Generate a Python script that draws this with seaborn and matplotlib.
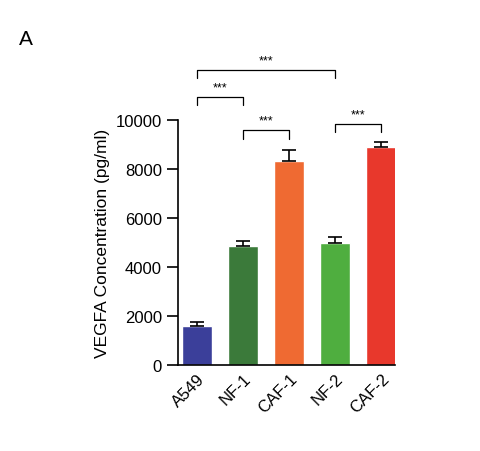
import matplotlib
matplotlib.use('Agg')
import matplotlib.pyplot as plt
import seaborn as sb
import numpy as np

# values
groups = ['A549', 'NF-1', 'CAF-1', 'NF-2', 'CAF-2']
means = [1600, 4850, 8350, 5000, 8900]
errs = [150, 200, 450, 250, 200]
colors = ['#3b3f9a', '#3b7a3a', '#ef6a32', '#4fae3f', '#e8382c']

# significance brackets: (left, right, height, label)
brackets = [(0, 1, 10950, '***'), (0, 3, 12050, '***'),
            (1, 2, 9600, '***'), (3, 4, 9850, '***')]

sb.set_style('ticks', {'xtick.color': 'black', 'ytick.color': 'black',
                       'text.color': 'black', 'axes.labelcolor': 'black',
                       'axes.edgecolor': 'black'})
plt.rcParams['font.family'] = ['Liberation Sans', 'DejaVu Sans']

fig = plt.figure(figsize=(4.8, 4.52), dpi=100)
ax = fig.add_axes([0.371, 0.19, 0.452, 0.542])

sb.barplot(x=groups, y=means, hue=groups, palette=colors, width=0.65,
           legend=False, ax=ax, saturation=1)
ax.errorbar(range(len(groups)), means, yerr=[np.zeros(len(errs)), errs],
            fmt='none', ecolor='black', elinewidth=1.2, capsize=5, capthick=1.2)

ax.set_ylim(0, 10000)
ax.set_xlim(-0.41, 4.3)
ax.set_yticks(range(0, 10001, 2000))
ax.tick_params(axis='y', length=8, width=1.2, labelsize=12)
ax.tick_params(axis='x', length=0, labelsize=12, pad=4)
plt.setp(ax.get_xticklabels(), rotation=45, ha='right', rotation_mode='anchor')
for s in ['left', 'bottom']:
    ax.spines[s].set_linewidth(1.2)
sb.despine(ax=ax)
ax.set_ylabel('VEGFA Concentration (pg/ml)', fontsize=12.5)

for a, b, h, lab in brackets:
    ax.plot([a, a, b, b], [h - 350, h, h, h - 350], color='black', lw=0.9, clip_on=False)
    ax.text((a + b) / 2, h + 150, lab, ha='center', va='bottom', fontsize=9)

fig.text(0.04, 0.9, 'A', fontsize=15)

plt.savefig('out.png', dpi=100)
